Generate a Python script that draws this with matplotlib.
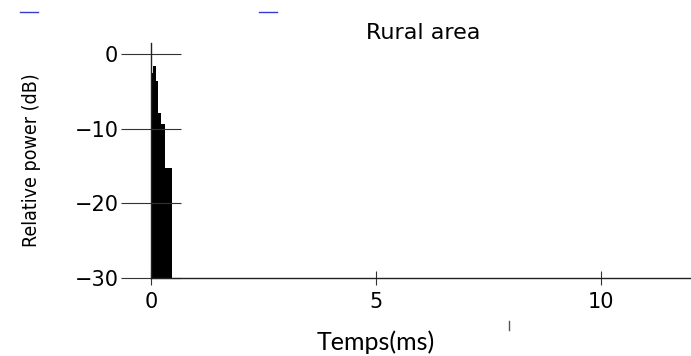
import matplotlib.pyplot as plt
import numpy as np

# power delay profile, rural area
delay_edges = [0.0, 0.04, 0.10, 0.16, 0.23, 0.30, 0.32, 0.46]   # ms
power_db = [-2.5, -1.6, -3.6, -7.9, -9.3, -10.6, -15.2]           # dB
floor_db = -30

yticks = [0, -10, -20, -30]
xticks = [0, 5, 10]

W, H = 691, 356
fig = plt.figure(figsize=(W / 100, H / 100), dpi=100)
ax = fig.add_axes([151 / W, 78 / H, 540 / W, 235 / H])

ax.stairs(power_db, delay_edges, baseline=floor_db, fill=True, color='black')

ax.set_xlim(0, 12)
ax.set_ylim(floor_db, 1.5)
ax.set_xticks(xticks)
ax.set_yticks(yticks)
ax.set_yticklabels(['0', '\u221210', '\u221220', '\u221230'])

for s in ['top', 'right']:
    ax.spines[s].set_visible(False)
for s in ['left', 'bottom']:
    ax.spines[s].set_color('#222222')
    ax.spines[s].set_linewidth(1.0)

ax.tick_params(axis='y', direction='inout', length=43, width=0.8, pad=2,
               color='#333333', labelsize=15)
ax.tick_params(axis='x', direction='inout', length=10, width=0.8, pad=5,
               color='#333333', labelsize=15)

ax.set_title('Rural area', fontsize=16, pad=3, x=0.504)
ax.set_ylabel('Relative power (dB)', family='DejaVu Sans', fontstretch='condensed',
              fontsize=14, labelpad=24)

fig.text(376 / W, 6 / H, 'Temps(ms)', family=['Lato', 'DejaVu Sans'], fontsize=18,
         ha='center', va='baseline')

# stray marks along the edges
fig.add_artist(plt.Line2D([20 / W, 38 / W], [1 - 11.5 / H] * 2, color='#3a3ad0', lw=1))
fig.add_artist(plt.Line2D([259 / W, 277 / W], [1 - 11.5 / H] * 2, color='#3a3ad0', lw=1))
fig.add_artist(plt.Line2D([509 / W] * 2, [1 - 321 / H, 1 - 330 / H], color='#555555', lw=1))

fig.savefig('out.png', dpi=100)
